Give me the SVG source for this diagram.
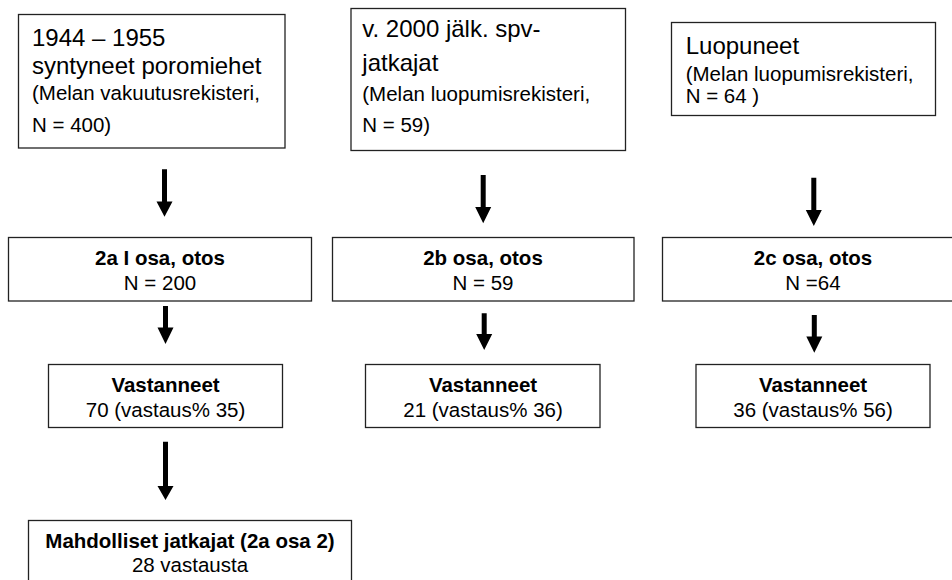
<svg xmlns="http://www.w3.org/2000/svg" width="952" height="580" viewBox="0 0 952 580">
<style>
.box{fill:#fff;stroke:#222;stroke-width:1.3}
text{font-family:"Liberation Sans",Arial,sans-serif;fill:#000}
.big{font-size:24px}
.mid{font-size:20.5px}
.b{font-size:20.5px;font-weight:bold}
.c{text-anchor:middle}
.arrow{fill:#000}
</style>
<rect width="952" height="580" fill="#fff"/>
<g id="n-poromiehet">
<rect class="box" x="18.5" y="14.5" width="266.5" height="133.5"/>
<text class="big" x="32" y="45.5">1944 – 1955</text>
<text class="big" x="32" y="73.5">syntyneet poromiehet</text>
<text class="mid" x="32" y="100">(Melan vakuutusrekisteri,</text>
<text class="mid" x="32" y="132">N = 400)</text>
</g>
<g id="n-jatkajat">
<rect class="box" x="351" y="8.5" width="274.5" height="142"/>
<text class="big" x="362.3" y="37.3">v. 2000 jälk. spv-</text>
<text class="big" x="362.3" y="71">jatkajat</text>
<text class="mid" x="362.3" y="100.5">(Melan luopumisrekisteri,</text>
<text class="mid" x="362.3" y="132">N = 59)</text>
</g>
<g id="n-luopuneet">
<rect class="box" x="671.5" y="22.5" width="264" height="93"/>
<text class="big" x="685.7" y="54.3">Luopuneet</text>
<text class="mid" x="685.7" y="81">(Melan luopumisrekisteri,</text>
<text class="mid" x="685.7" y="103.3">N = 64 )</text>
</g>
<g id="n-2a">
<rect class="box" x="8.5" y="237.5" width="303" height="63.5"/>
<text class="b c" x="160" y="265">2a I osa, otos</text>
<text class="mid c" x="160" y="290">N = 200</text>
</g>
<g id="n-2b">
<rect class="box" x="332.5" y="237.5" width="301.5" height="63.5"/>
<text class="b c" x="483" y="265">2b osa, otos</text>
<text class="mid c" x="483" y="290">N = 59</text>
</g>
<g id="n-2c">
<rect class="box" x="662.5" y="237.5" width="302" height="63.5"/>
<text class="b c" x="813" y="265">2c osa, otos</text>
<text class="mid c" x="813" y="290">N =64</text>
</g>
<g id="n-vast-a">
<rect class="box" x="48.5" y="364.5" width="234" height="63"/>
<text class="b c" x="165.5" y="392.3">Vastanneet</text>
<text class="mid c" x="165.5" y="416.5">70 (vastaus% 35)</text>
</g>
<g id="n-vast-b">
<rect class="box" x="365.5" y="364.5" width="234.5" height="63"/>
<text class="b c" x="483" y="392.3">Vastanneet</text>
<text class="mid c" x="483" y="416.5">21 (vastaus% 36)</text>
</g>
<g id="n-vast-c">
<rect class="box" x="696" y="364.5" width="234" height="63"/>
<text class="b c" x="813" y="392.3">Vastanneet</text>
<text class="mid c" x="813" y="416.5">36 (vastaus% 56)</text>
</g>
<g id="n-mahdolliset">
<rect class="box" x="28.5" y="520.5" width="323" height="80"/>
<text class="b c" x="190" y="548.3">Mahdolliset jatkajat (2a osa 2)</text>
<text class="mid c" x="190" y="572.3">28 vastausta</text>
</g>
<g id="connectors">
<path class="arrow" d="M162,169.3 V201.5 H156.5 L164.5,216.7 L172.5,201.5 H167 V169.3 Z"/>
<path class="arrow" d="M480.7,175 V207 H475.2 L483.2,223.3 L491.2,207 H485.7 V175 Z"/>
<path class="arrow" d="M811.3,177.7 V210 H805.8 L813.8,226 L821.8,210 H816.3 V177.7 Z"/>
<path class="arrow" d="M163,306 V327.5 H157.5 L165.5,344 L173.5,327.5 H168 V306 Z"/>
<path class="arrow" d="M481.7,313.3 V334 H476.2 L484.2,350 L492.2,334 H486.7 V313.3 Z"/>
<path class="arrow" d="M811.8,315 V336.5 H806.3 L814.3,352.7 L822.3,336.5 H816.8 V315 Z"/>
<path class="arrow" d="M163,441.7 V486 H157.5 L165.5,500 L173.5,486 H168 V441.7 Z"/>
</g>
</svg>
